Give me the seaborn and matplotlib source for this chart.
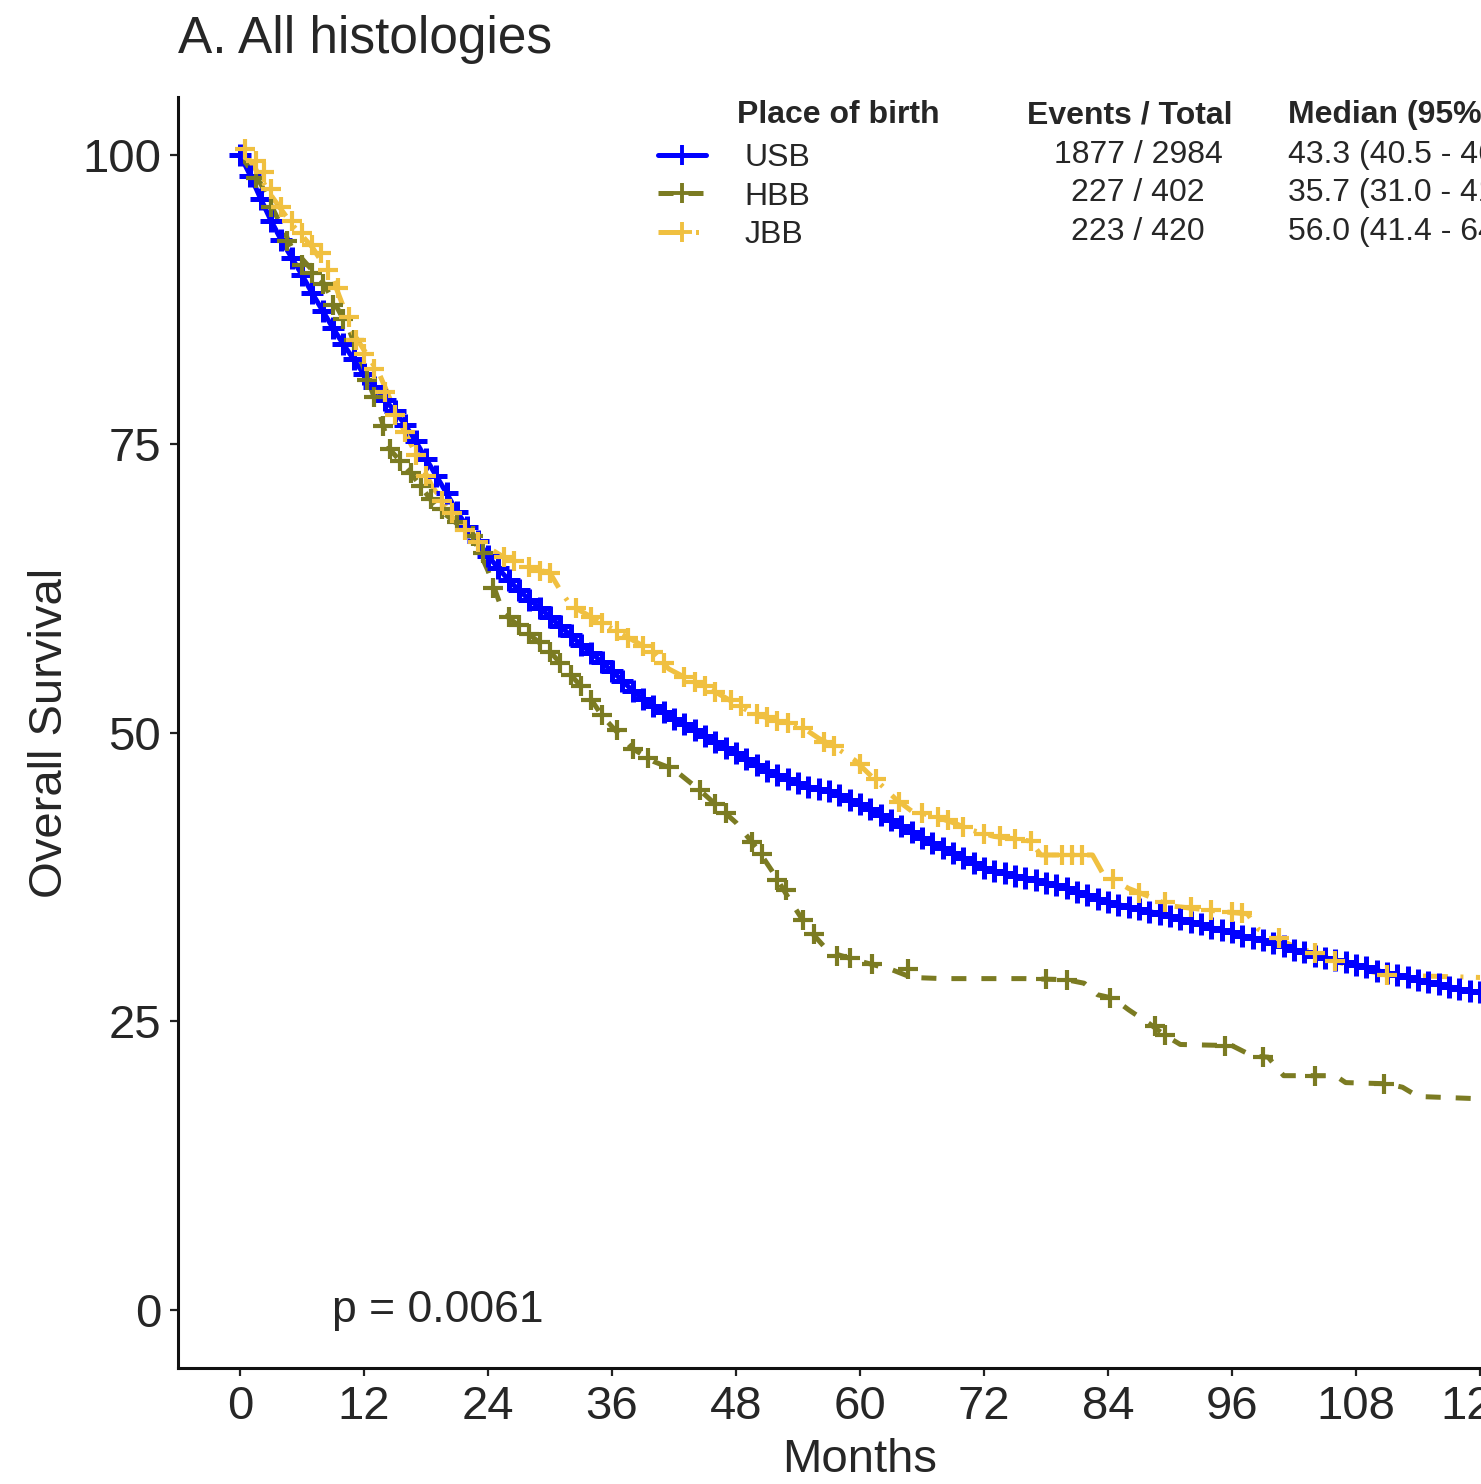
import pandas as pd
import matplotlib
matplotlib.use("Agg")
import matplotlib.pyplot as plt
from matplotlib.lines import Line2D
import seaborn as sns

# USB: curve read every month, every point also carries a censor mark (dense band)
usb_month = list(range(0, 121))
usb_surv = [100, 98.2, 96.2, 94.3, 92.6, 91.1, 89.6, 88.0, 86.5, 85.0,
            83.6, 82.3, 81.0, 79.9, 78.8, 77.8, 76.6, 75.2, 73.7, 72.2,
            70.7, 69.1, 67.8, 66.6, 65.3, 64.2, 63.2, 62.3, 61.5, 60.8,
            60.0, 59.2, 58.4, 57.6, 56.9, 56.1, 55.3, 54.5, 53.6, 52.9,
            52.3, 51.8, 51.2, 50.7, 50.2, 49.7, 49.2, 48.7, 48.2, 47.7,
            47.2, 46.7, 46.3, 46.0, 45.6, 45.3, 45.1, 44.9, 44.6, 44.2,
            43.8, 43.4, 42.9, 42.4, 41.9, 41.4, 40.9, 40.4, 40.0, 39.6,
            39.1, 38.7, 38.3, 38.0, 37.8, 37.6, 37.4, 37.2, 37.0, 36.8,
            36.5, 36.2, 35.9, 35.6, 35.3, 35.1, 34.9, 34.7, 34.5, 34.3,
            34.1, 33.9, 33.6, 33.4, 33.1, 32.9, 32.7, 32.4, 32.2, 32.0,
            31.8, 31.5, 31.2, 31.0, 30.7, 30.5, 30.3, 30.1, 29.9, 29.7,
            29.4, 29.2, 29.0, 28.8, 28.6, 28.4, 28.2, 28.0, 27.8, 27.6, 27.5]

hbb_month = [0, 2, 5, 8, 10.5, 12, 13.5, 14.5, 16.5, 19, 22.5, 24, 25.5, 28, 30,
             32, 33.5, 35, 36, 38, 40, 42, 44.5, 46, 48, 50, 51.5, 53, 55, 57,
             60, 63, 65, 68, 76, 80, 81.7, 83, 84.5, 86, 88, 89.5, 91, 96, 98,
             99.5, 101, 106, 107, 111, 112.5, 114, 120]
hbb_surv = [100, 97.5, 92, 89, 85, 81.5, 77.7, 74.5, 72.5, 69.5, 67, 64, 60.3, 58.5, 57,
            55, 53.5, 51.5, 50.5, 48.6, 47.5, 46.8, 45, 43.8, 42.2, 40, 38, 35.8, 33, 31,
            30.2, 29.5, 28.8, 28.7, 28.7, 28.6, 28.3, 27.3, 27, 26, 24.8, 23.8, 23, 22.9, 22,
            21.9, 20.3, 20.3, 19.7, 19.6, 19.3, 18.5, 18.3]
hbb_cens_month = [1.5, 3, 4.5, 6, 7, 8, 9, 10, 11, 12.3, 13, 13.8, 14.5, 15.5, 16.5,
                  17.5, 18.5, 19.5, 21, 22.5, 23.5, 24.5, 26, 27, 28, 29, 30, 31, 32, 33,
                  34, 35, 36.5, 38, 39.5, 41.5, 44.5, 46, 47, 49.5, 50.5, 52, 52.8, 54.5,
                  55.5, 57.8, 59, 61.2, 64.6, 78, 80, 84.2, 88.5, 89.5, 95.3, 99, 104, 110.7]
hbb_cens_surv = [98, 95.5, 92.5, 90.5, 89.8, 88.8, 87, 85.8, 84, 80.5, 79, 76.5, 74.5, 73.5, 72.5,
                 71.3, 70.2, 69.3, 68.2, 67, 65.5, 62.5, 60, 59.3, 58.5, 57.8, 57, 56, 55, 54,
                 52.8, 51.5, 50.2, 48.6, 47.8, 47, 45, 43.8, 43, 40.5, 39.5, 37.2, 36.4, 33.8,
                 32.6, 30.7, 30.5, 30, 29.5, 28.7, 28.6, 27, 24.6, 23.8, 22.9, 21.9, 20.3, 19.6]

jbb_month = [0, 1, 3, 5, 7, 9, 11, 13.5, 15.5, 18.6, 20, 21.8, 24, 25.5, 28, 30, 31, 32,
             34, 36, 38, 40, 41.5, 43, 45, 47, 49.5, 52, 54.5, 56, 57.5, 59.5, 61, 62,
             63.5, 65, 67, 69, 71, 73, 75, 76.5, 77.5, 82.5, 83.5, 86, 88, 90, 95, 97.5, 98.5,
             100, 102, 104, 106, 109, 111, 120]
jbb_surv = [100, 99.5, 96.5, 94, 92, 89.2, 84.5, 81, 76.8, 71.3, 69.5, 67.5, 66, 65.2, 64.3,
            63.8, 62.3, 61, 60, 59, 58, 57, 55.5, 54.8, 54, 53, 51.7, 51, 50.4, 49.5, 48.8,
            47.6, 46.3, 45.5, 44.2, 43.2, 42.8, 42.2, 41.5, 41, 40.8, 40.6, 39.4, 39.4, 37.8,
            36.5, 35.8, 35, 34.5, 34.3, 33, 32.3, 31.5, 30.9, 30.2, 29.4, 29, 28.8]
jbb_cens_month = [0.5, 1.5, 2.3, 3, 4, 5, 6, 7, 7.8, 8.5, 9.5, 10.5, 11.2, 12, 13, 14, 15,
                  16, 17, 18, 19.5, 20.5, 21.8, 23, 25.5, 26.5, 28, 29, 30, 32.5, 34, 35,
                  36.5, 37.5, 39, 40, 41, 43, 44, 45, 46, 47.5, 48.5, 50, 51, 52, 53, 54.5,
                  56.5, 57.5, 60, 61.5, 63.8, 66, 67.5, 68.5, 70, 72, 73.5, 75, 76.5, 78, 79.5,
                  80.5, 81.5, 84.5, 87, 89.5, 92, 94, 96, 97, 100.5, 104, 106, 111]
jbb_cens_surv = [100.5, 99.5, 98.5, 97, 95.5, 94.3, 93.2, 92.2, 91.5, 90, 88.5, 86, 84, 82.8,
                 81.5, 79.5, 77.5, 76, 74, 72.2, 70, 69, 67.5, 66.5, 65.2, 64.8, 64.3, 64, 63.8,
                 60.8, 60, 59.5, 58.8, 58.2, 57.5, 57, 56, 54.8, 54.4, 54, 53.5, 52.8, 52.3,
                 51.6, 51.3, 51, 50.8, 50.4, 49.2, 48.8, 47.3, 46, 44, 43, 42.7, 42.4, 41.8,
                 41.2, 41, 40.8, 40.6, 39.4, 39.4, 39.4, 39.4, 37.3, 36.1, 35.3, 34.9, 34.6,
                 34.5, 34.4, 32.2, 30.9, 30.2, 29]

groups = ["USB", "HBB", "JBB"]
events_total = ["1877 / 2984", "227 / 402", "223 / 420"]
medians = ["43.3 (40.5 - 46.1)", "35.7 (31.0 - 41.5)", "56.0 (41.4 - 64.8)"]
colors = {"USB": "#0000FF", "HBB": "#7B7B22", "JBB": "#F0C040"}
dashes = {"USB": "", "HBB": (3, 3), "JBB": (5, 2.5, 0.6, 2.5)}
mark_size = {"USB": 16, "HBB": 15, "JBB": 15}
mark_width = {"USB": 3.6, "HBB": 3.0, "JBB": 3.0}
x_ticks = [0, 12, 24, 36, 48, 60, 72, 84, 96, 108, 120]
y_ticks = [0, 25, 50, 75, 100]

curves = pd.concat([
    pd.DataFrame({"month": usb_month, "surv": usb_surv, "group": "USB"}),
    pd.DataFrame({"month": hbb_month, "surv": hbb_surv, "group": "HBB"}),
    pd.DataFrame({"month": jbb_month, "surv": jbb_surv, "group": "JBB"}),
], ignore_index=True)
censors = pd.concat([
    pd.DataFrame({"month": usb_month, "surv": usb_surv, "group": "USB"}),
    pd.DataFrame({"month": hbb_cens_month, "surv": hbb_cens_surv, "group": "HBB"}),
    pd.DataFrame({"month": jbb_cens_month, "surv": jbb_cens_surv, "group": "JBB"}),
], ignore_index=True)

sns.set_theme(style="ticks")
plt.rcParams["font.family"] = ["Liberation Sans", "DejaVu Sans"]

W, H = 1481, 1484
fig = plt.figure(figsize=(W / 100, H / 100), dpi=100)
ax = fig.add_axes([178 / W, 116 / H, 1364 / W, 1271 / H])

sns.lineplot(data=curves, x="month", y="surv", hue="group", style="group",
             hue_order=groups, style_order=groups, palette=colors, dashes=dashes,
             linewidth=3.6, sort=False, estimator=None, legend=False, ax=ax)
for g in groups:
    sub = censors[censors["group"] == g]
    ax.plot(sub["month"], sub["surv"], linestyle="none", marker="+",
            markersize=mark_size[g], markeredgewidth=mark_width[g], color=colors[g])

ax.set_xlim(-6, 126)
ax.set_ylim(-5, 105)
ax.set_xticks(x_ticks)
ax.set_yticks(y_ticks)
ax.tick_params(labelsize=34, length=6, width=1.6, pad=6, color="#222222")
for side in ["top", "right"]:
    ax.spines[side].set_visible(False)
for side in ["left", "bottom"]:
    ax.spines[side].set_linewidth(2.2)
    ax.spines[side].set_color("#111111")

ax.set_xlabel("Months", fontsize=34)
ax.set_ylabel("Overall Survival", fontsize=34)
ax.xaxis.set_label_coords(66 / 132, -0.055)
ax.yaxis.set_label_coords(-0.078, 0.5)

ax.text(8.9, 0, "p = 0.0061", ha="left", va="center", fontsize=32)

fig.text(178 / W, 1 - 40 / H, "A. All histologies", fontsize=37, ha="left", va="center")

# legend table
handles = [Line2D([], [], color=colors[g], linewidth=3.6, dashes=dashes[g] if dashes[g] else (None, None),
                  marker="+", markersize=15, markeredgewidth=2.8) for g in groups]
fig.legend(handles, groups, loc="upper left", bbox_to_anchor=(658 / W, 1 - 143 / H),
           frameon=False, fontsize=23, handlelength=1.5, handletextpad=1.2,
           labelspacing=0.27, borderaxespad=0, borderpad=0)
row_y = [155, 193, 232]
fig.text(737 / W, 1 - 115 / H, "Place of birth", fontsize=23, fontweight="bold", va="center")
fig.text(1130 / W, 1 - 115 / H, "Events / Total", fontsize=23, fontweight="bold", va="center", ha="center")
fig.text(1288 / W, 1 - 115 / H, "Median (95% CI)", fontsize=23, fontweight="bold", va="center")
for y, et, md in zip(row_y, events_total, medians):
    fig.text(1138 / W, 1 - y / H, et, fontsize=23, va="center", ha="center")
    fig.text(1288 / W, 1 - y / H, md, fontsize=23, va="center")

fig.savefig("out.png", dpi=100)
